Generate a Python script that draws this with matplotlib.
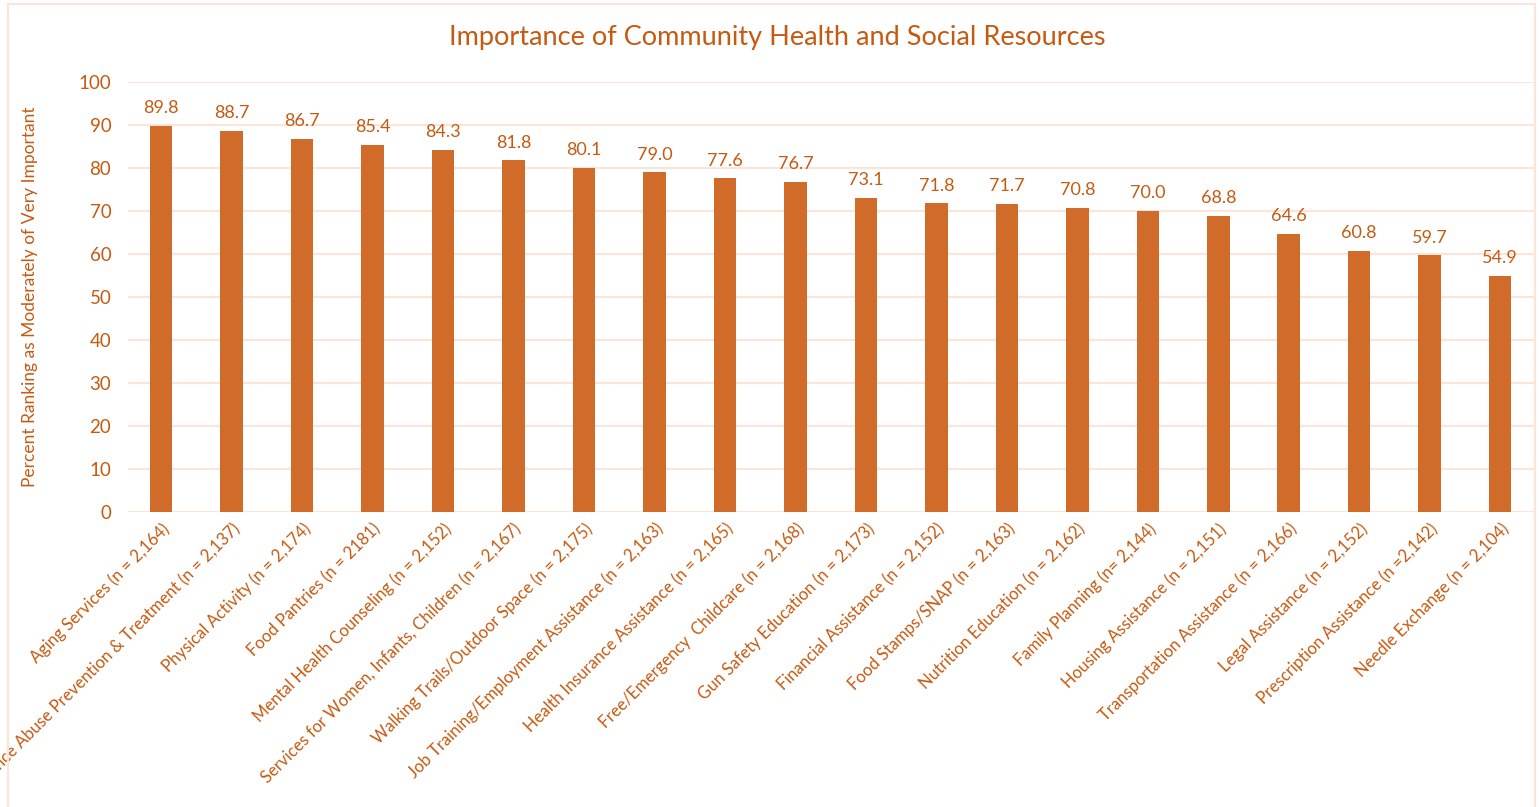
import numpy as np
import matplotlib.pyplot as plt
from matplotlib.patches import Rectangle

categories = [
    "Aging Services (n = 2,164)",
    "Substance Abuse Prevention & Treatment (n = 2,137)",
    "Physical Activity (n = 2,174)",
    "Food Pantries (n = 2181)",
    "Mental Health Counseling (n = 2,152)",
    "Services for Women, Infants, Children (n = 2,167)",
    "Walking Trails/Outdoor Space (n = 2,175)",
    "Job Training/Employment Assistance (n = 2,163)",
    "Health Insurance Assistance (n = 2,165)",
    "Free/Emergency  Childcare (n = 2,168)",
    "Gun Safety Education (n = 2,173)",
    "Financial Assistance (n = 2,152)",
    "Food Stamps/SNAP (n = 2,163)",
    "Nutrition Education (n = 2,162)",
    "Family Planning (n= 2,144)",
    "Housing Assistance (n = 2,151)",
    "Transportation Assistance (n = 2,166)",
    "Legal Assistance (n = 2,152)",
    "Prescription Assistance (n =2,142)",
    "Needle Exchange (n = 2,104)",
]
values = [89.8, 88.7, 86.7, 85.4, 84.3, 81.8, 80.1, 79.0, 77.6, 76.7,
          73.1, 71.8, 71.7, 70.8, 70.0, 68.8, 64.6, 60.8, 59.7, 54.9]
yticks = [0, 10, 20, 30, 40, 50, 60, 70, 80, 90, 100]

bar_color = "#D06B29"
text_color = "#C55A11"
grid_color = "#FCE4D6"

plt.rcParams['font.family'] = ['Lato', 'DejaVu Sans']

fig = plt.figure(figsize=(15.4, 8.07), dpi=100)
ax = fig.add_axes([128 / 1540, 1 - 512 / 807, (1534 - 128) / 1540, (512 - 82) / 807])

x = np.arange(len(categories))
ax.bar(x, values, width=0.32, color=bar_color, zorder=3)
for xi, v in zip(x, values):
    ax.annotate(f"{v:.1f}", (xi, v), xytext=(0, 7), textcoords="offset points",
                ha="center", va="bottom", color=text_color, fontsize=13)

ax.set_xlim(-0.47, len(categories) - 0.52)
ax.set_ylim(0, 100)
ax.set_yticks(yticks)
ax.yaxis.grid(True, color=grid_color, linewidth=1.5, zorder=0)
ax.set_xticks(x)
ax.set_xticklabels(categories, rotation=45, ha="right", rotation_mode="anchor",
                   color=text_color, fontsize=12)
ax.tick_params(axis="both", length=0, colors=text_color)
ax.tick_params(axis="y", labelsize=13.5, pad=12)
ax.tick_params(axis="x", pad=6)
for s in ax.spines.values():
    s.set_visible(False)

ax.set_ylabel("Percent Ranking as Moderately of Very Important", color=text_color,
              fontsize=12.5)
ax.yaxis.set_label_coords(-90 / 1406, 0.5)

fig.text(777 / 1540, 1 - 38 / 807, "Importance of Community Health and Social Resources",
         ha="center", va="center", color=text_color, fontsize=19.5)

fig.patches.append(Rectangle((8 / 1540, -0.01), (1535 - 8) / 1540, 1 - 4 / 807 + 0.01,
                             transform=fig.transFigure, fill=False,
                             edgecolor=grid_color, linewidth=1.5))

fig.savefig("out.png", dpi=100)
